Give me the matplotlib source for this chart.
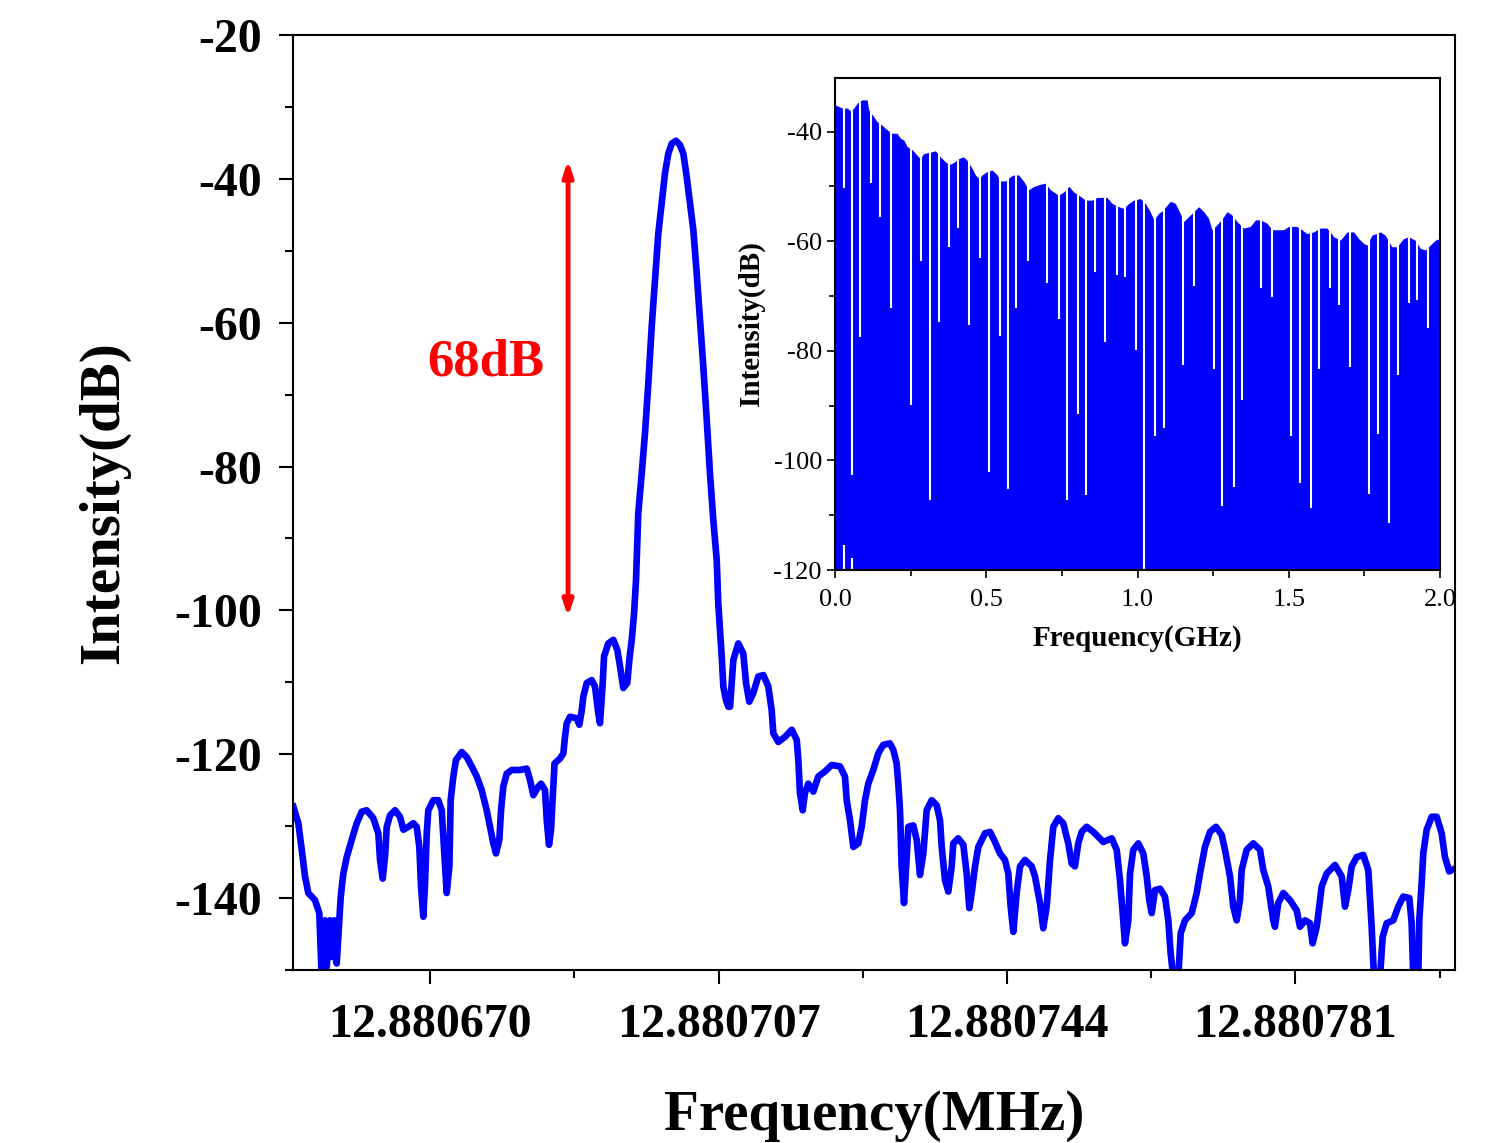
import numpy as np
import matplotlib.pyplot as plt
from matplotlib.ticker import MultipleLocator

plt.rcParams['font.family'] = ['Liberation Serif', 'DejaVu Serif']
plt.rcParams['axes.unicode_minus'] = False

# main spectrum: offset from 12.880670 MHz in Hz, intensity in dB
F0 = 12.880670
off_hz = [-17.53, -16.89, -16.45, -16.03, -15.61, -14.75, -14.20, -13.89, -13.47, -13.25,
          -12.83, -12.53, -12.27, -11.97, -11.63, -11.45, -11.12, -10.68, -10.04, -9.40,
          -8.76, -8.12, -7.27, -6.63, -6.41, -6.07, -5.77, -5.55, -5.13, -4.49,
          -3.85, -3.42, -2.78, -2.14, -1.71, -1.37, -1.15, -0.86, -0.64, -0.42,
          -0.22, 0.42, 1.06, 1.50, 1.80, 2.14, 2.48, 2.65, 2.99, 3.33,
          4.07, 4.71, 5.35, 5.99, 6.63, 7.27, 7.70, 8.12, 8.46, 8.89,
          9.11, 9.40, 9.84, 10.48, 11.54, 12.40, 12.83, 13.25, 13.89, 14.24,
          14.75, 14.97, 15.26, 15.52, 15.81, 15.97, 16.67, 17.10, 17.31, 17.53,
          17.96, 18.81, 19.15, 19.46, 19.66, 20.10, 20.74, 21.16, 21.58, 21.80,
          22.15, 22.32, 22.87, 23.51, 24.02, 24.37, 24.79, 25.30, 25.56, 25.87,
          26.16, 26.42, 26.71, 27.15, 27.57, 28.00, 28.43, 28.86, 29.28, 29.71,
          30.14, 30.56, 31.00, 31.55, 32.06, 32.49, 32.92, 33.35, 33.77, 34.20,
          34.63, 35.05, 35.49, 35.91, 36.33, 36.77, 36.97, 37.19, 37.41, 37.62,
          37.96, 38.26, 38.48, 38.90, 39.54, 40.18, 40.53, 40.95, 41.46, 42.10,
          42.75, 43.39, 43.82, 44.03, 44.67, 45.53, 46.39, 47.03, 47.24, 47.45,
          47.80, 48.09, 48.52, 49.16, 49.80, 50.66, 51.52, 52.58, 53.22, 53.44,
          53.87, 54.29, 54.93, 55.36, 55.79, 56.21, 56.85, 57.49, 58.13, 58.99,
          59.42, 59.85, 60.06, 60.28, 60.49, 60.79, 61.14, 61.34, 61.98, 62.42,
          62.84, 63.27, 63.70, 64.34, 64.98, 65.41, 65.63, 66.05, 66.47, 66.91,
          67.11, 67.75, 68.40, 68.83, 69.17, 69.47, 69.90, 70.32, 71.18, 71.82,
          72.46, 73.10, 73.74, 74.17, 74.47, 74.81, 75.24, 75.67, 76.31, 77.17,
          77.59, 78.23, 78.65, 79.09, 79.52, 79.94, 80.58, 81.22, 81.86, 82.30,
          82.72, 83.14, 83.58, 84.22, 85.07, 85.71, 86.35, 87.43, 88.07, 88.49,
          88.84, 89.13, 89.56, 89.78, 90.20, 90.84, 91.48, 91.92, 92.25, 92.56,
          92.98, 93.62, 94.26, 94.69, 94.99, 95.33, 95.97, 96.28, 96.83, 97.69,
          98.33, 98.75, 99.39, 100.04, 100.80, 101.53, 101.96, 102.60, 103.02, 103.46,
          103.88, 104.10, 104.74, 105.59, 106.45, 106.87, 107.51, 108.15, 108.37, 108.79,
          109.44, 110.30, 111.15, 111.58, 112.22, 112.86, 113.20, 113.72, 114.05, 114.36,
          115.00, 116.07, 116.93, 117.35, 117.77, 118.21, 118.85, 119.70, 120.34, 120.77,
          121.07, 121.84, 122.18, 122.70, 123.54, 124.18, 124.82, 125.60, 125.90, 126.11,
          126.75, 126.88, 127.18, 127.39, 127.83, 128.47, 129.11, 129.75, 130.17, 130.72,
          131.45]
intensity_db = [-127.3, -129.6, -133.3, -137.0, -139.3, -140.3, -142.1, -151.0, -143.1, -149.6,
                -143.1, -148.2, -143.1, -149.1, -143.1, -139.8, -136.6, -134.3, -131.9, -129.6,
                -128.0, -127.8, -128.9, -131.0, -134.7, -137.3, -134.3, -130.1, -128.5, -127.8,
                -128.7, -130.5, -130.1, -129.6, -130.1, -132.9, -138.4, -142.6, -138.0, -131.0,
                -127.8, -126.4, -126.4, -127.8, -133.3, -139.3, -135.6, -126.4, -123.1, -120.8,
                -119.7, -120.4, -121.7, -123.1, -125.0, -127.8, -130.1, -132.4, -133.8, -131.9,
                -127.8, -124.5, -122.7, -122.2, -122.2, -122.0, -123.6, -125.7, -124.5, -124.1,
                -125.0, -129.2, -132.6, -130.5, -124.5, -121.3, -120.6, -119.9, -117.6, -115.7,
                -114.8, -115.0, -115.9, -113.9, -112.0, -110.1, -109.7, -110.6, -114.3, -115.7,
                -110.1, -106.4, -104.6, -104.1, -105.5, -107.8, -110.8, -110.1, -106.9, -104.1,
                -100.6, -95.8, -86.5, -81.0, -75.4, -68.4, -60.6, -54.1, -47.6, -43.4,
                -39.2, -36.5, -35.1, -34.7, -35.3, -36.5, -39.7, -43.4, -47.1, -53.1,
                -59.6, -66.1, -73.5, -81.0, -87.4, -93.0, -99.0, -102.7, -106.4, -110.6,
                -112.5, -113.4, -113.4, -106.9, -104.6, -106.0, -110.1, -112.7, -111.5, -109.2,
                -109.0, -110.6, -113.9, -117.1, -118.3, -117.6, -116.6, -118.0, -120.8, -125.4,
                -127.8, -125.4, -124.1, -125.2, -123.1, -122.4, -121.5, -121.7, -123.1, -126.4,
                -129.2, -132.9, -132.4, -130.1, -126.4, -124.1, -122.2, -119.9, -118.7, -118.5,
                -119.4, -121.3, -124.1, -127.8, -135.6, -140.7, -134.3, -130.1, -129.9, -131.9,
                -136.8, -133.8, -127.8, -126.4, -127.1, -129.2, -132.9, -137.5, -139.1, -135.6,
                -132.4, -131.7, -132.6, -136.6, -141.4, -139.3, -135.6, -132.9, -131.0, -130.8,
                -132.2, -133.8, -134.7, -136.6, -141.2, -144.7, -139.3, -135.6, -134.7, -135.6,
                -137.0, -140.7, -144.2, -141.2, -134.7, -130.1, -128.9, -129.6, -132.4, -135.2,
                -135.6, -132.4, -130.8, -130.1, -130.8, -131.5, -132.2, -131.7, -133.3, -137.5,
                -142.1, -146.3, -143.1, -136.6, -133.3, -132.4, -133.8, -137.0, -140.3, -142.1,
                -138.9, -138.7, -139.8, -143.1, -147.7, -151.0, -151.0, -144.9, -143.1, -142.1,
                -139.3, -136.6, -132.9, -130.8, -130.1, -131.2, -133.3, -137.0, -141.2, -143.1,
                -140.3, -136.1, -133.3, -132.4, -133.3, -136.1, -138.4, -143.1, -144.0, -140.7,
                -139.3, -140.3, -141.7, -144.0, -143.1, -143.5, -146.3, -144.0, -141.2, -138.4,
                -136.6, -135.4, -137.0, -141.2, -138.9, -135.6, -134.3, -134.0, -136.1, -144.0,
                -151.0, -151.0, -145.4, -143.5, -143.1, -141.2, -139.8, -140.0, -143.5, -151.0,
                -151.0, -143.1, -138.0, -133.8, -130.5, -128.7, -128.7, -131.0, -134.3, -136.3,
                -135.9]

x_tick_hz = [0, 37, 74, 111]
x_tick_labels = ['12.880670', '12.880707', '12.880744', '12.880781']
x_minor_hz = [18.5, 55.5, 92.5, 129.5]

# red marker of the side-mode suppression
arrow_hz = 17.7
arrow_top_db = -37.4
arrow_bottom_db = -100.9
arrow_label = '68dB'

# inset: comb envelope (GHz, dB)
env_ghz = [0.0, 0.012, 0.023, 0.040, 0.051, 0.062, 0.073, 0.089, 0.106, 0.111,
           0.128, 0.139, 0.155, 0.166, 0.178, 0.188, 0.205, 0.216, 0.227, 0.238,
           0.255, 0.271, 0.282, 0.293, 0.310, 0.332, 0.348, 0.365, 0.376, 0.387,
           0.398, 0.409, 0.425, 0.436, 0.453, 0.464, 0.475, 0.486, 0.502, 0.519,
           0.536, 0.546, 0.563, 0.580, 0.591, 0.607, 0.624, 0.640, 0.657, 0.679,
           0.695, 0.712, 0.728, 0.739, 0.756, 0.773, 0.789, 0.806, 0.828, 0.850,
           0.866, 0.899, 0.916, 0.938, 0.954, 0.971, 0.987, 1.009, 1.026, 1.042,
           1.054, 1.070, 1.081, 1.098, 1.109, 1.125, 1.136, 1.153, 1.169, 1.186,
           1.202, 1.219, 1.235, 1.246, 1.263, 1.285, 1.296, 1.312, 1.329, 1.351,
           1.373, 1.390, 1.406, 1.428, 1.445, 1.461, 1.483, 1.500, 1.527, 1.544,
           1.560, 1.582, 1.604, 1.626, 1.637, 1.649, 1.671, 1.693, 1.715, 1.731,
           1.748, 1.759, 1.775, 1.803, 1.819, 1.841, 1.858, 1.880, 1.897, 1.918,
           1.935, 1.952, 1.968, 1.985, 2.0]
env_db = [-35.1, -35.4, -35.7, -35.7, -36.2, -35.7, -34.8, -34.2, -34.2, -36.0,
          -37.3, -38.2, -38.8, -39.4, -39.9, -40.3, -40.3, -41.2, -41.5, -42.7,
          -43.3, -44.3, -44.9, -44.0, -43.8, -43.5, -44.6, -45.5, -46.0, -45.8,
          -45.4, -44.9, -44.6, -45.2, -46.7, -47.9, -48.5, -47.9, -47.3, -47.0,
          -47.9, -49.0, -49.0, -48.2, -47.9, -47.9, -49.1, -50.6, -50.0, -49.6,
          -49.4, -50.6, -51.2, -51.6, -51.0, -50.0, -51.0, -51.6, -52.5, -52.5,
          -52.0, -52.0, -53.1, -53.7, -54.0, -53.1, -52.5, -52.2, -53.1, -54.6,
          -56.1, -54.9, -54.5, -53.4, -52.7, -53.1, -54.3, -56.4, -55.5, -54.6,
          -53.7, -54.6, -55.8, -57.9, -57.0, -55.5, -54.6, -55.2, -56.4, -57.6,
          -57.3, -56.1, -56.1, -56.7, -57.9, -57.9, -57.9, -57.3, -57.3, -57.9,
          -58.6, -58.3, -57.6, -57.6, -58.3, -59.2, -59.8, -58.3, -58.3, -59.5,
          -60.4, -60.7, -58.9, -58.3, -58.9, -61.0, -61.0, -59.5, -59.2, -59.8,
          -61.3, -61.6, -60.7, -59.8, -59.5]

# inset: dips between comb lines (GHz, lowest dB)
dip_ghz = [0.029, 0.056, 0.084, 0.120, 0.150, 0.186, 0.251, 0.285, 0.315, 0.343,
           0.378, 0.407, 0.442, 0.480, 0.508, 0.544, 0.572, 0.599, 0.637, 0.701,
           0.739, 0.767, 0.803, 0.831, 0.858, 0.894, 0.932, 0.958, 0.995, 1.020,
           1.059, 1.087, 1.150, 1.188, 1.252, 1.279, 1.318, 1.345, 1.409, 1.445,
           1.508, 1.538, 1.574, 1.601, 1.637, 1.665, 1.704, 1.767, 1.795, 1.832,
           1.860, 1.897, 1.924, 1.960]
dip_db = [-50.3, -102.7, -77.4, -49.4, -55.5, -72.2, -89.9, -63.6, -107.2, -74.7,
          -61.0, -57.5, -75.3, -63.0, -102.2, -77.3, -105.3, -72.2, -63.6, -67.7,
          -74.2, -107.2, -91.5, -106.3, -65.7, -78.3, -66.2, -66.6, -79.8, -120.0,
          -95.5, -94.0, -82.5, -68.1, -83.4, -108.3, -104.8, -89.0, -68.6, -70.1,
          -95.5, -104.2, -108.7, -83.4, -68.6, -71.6, -82.9, -106.2, -95.1, -111.4,
          -84.4, -71.2, -70.7, -75.8]
# small gaps at the floor
floor_gap_ghz = [0.029, 0.056]
floor_gap_db = [-115.4, -117.8]

blue = '#0000FF'

fig = plt.figure(figsize=(14.92, 11.43), dpi=100)
ax = fig.add_axes([0.1964, 0.1514, 0.7788, 0.818])

x_mhz = F0 + np.array(off_hz) * 1e-6
ax.plot(x_mhz, intensity_db, color=blue, lw=4.8, solid_joinstyle='round')

ax.set_xlim(F0 - 17.57e-6, F0 + 131.46e-6)
ax.set_ylim(-150, -20)
ax.set_xticks(F0 + np.array(x_tick_hz) * 1e-6)
ax.set_xticklabels(x_tick_labels)
ax.set_xticks(F0 + np.array(x_minor_hz) * 1e-6, minor=True)
ax.yaxis.set_major_locator(MultipleLocator(20))
ax.yaxis.set_minor_locator(MultipleLocator(10))
ax.tick_params(which='major', direction='out', length=10, width=1.5, labelsize=34.5)
ax.tick_params(axis='x', which='major', pad=14)
ax.tick_params(axis='y', which='major', pad=12)
ax.tick_params(which='minor', direction='out', length=6, width=1.5)
for lab in ax.get_xticklabels() + ax.get_yticklabels():
    lab.set_fontweight('bold')
for s in ax.spines.values():
    s.set_linewidth(1.5)
ax.set_xlabel('Frequency(MHz)', fontsize=41, fontweight='bold', labelpad=31)
ax.set_ylabel('Intensity(dB)', fontsize=41, fontweight='bold', labelpad=32)

ax.annotate('', xy=(F0 + arrow_hz * 1e-6, arrow_top_db), xytext=(F0 + arrow_hz * 1e-6, arrow_bottom_db),
            arrowprops=dict(arrowstyle='<|-|>,head_length=0.9,head_width=0.3', color='red', lw=3.5,
                            shrinkA=0, shrinkB=0))
ax.text(F0 + 7.2e-6, -65.5, arrow_label, color='red', fontsize=38, fontweight='bold',
        ha='center', va='center')

# inset
ins = fig.add_axes([0.5597, 0.5013, 0.4054, 0.4305])
ins.fill_between(env_ghz, env_db, -120, color=blue, lw=0)
ins.vlines(dip_ghz, dip_db, -30, colors='white', lw=1.5)
ins.vlines(floor_gap_ghz, -120, floor_gap_db, colors='white', lw=1.5)
ins.set_xlim(0, 2.0)
ins.set_ylim(-120, -30.2)
ins.xaxis.set_major_locator(MultipleLocator(0.5))
ins.xaxis.set_minor_locator(MultipleLocator(0.25))
ins.yaxis.set_major_locator(MultipleLocator(20))
ins.yaxis.set_minor_locator(MultipleLocator(10))
ins.xaxis.set_major_formatter(plt.FormatStrFormatter('%.1f'))
ins.tick_params(which='both', direction='out', labelsize=19, width=1.2)
ins.tick_params(which='major', length=6)
ins.tick_params(axis='x', which='major', pad=7.5)
ins.tick_params(which='minor', length=4)
for s in ins.spines.values():
    s.set_linewidth(1.5)
ins.set_xlabel('Frequency(GHz)', fontsize=21, fontweight='bold', labelpad=10)
ins.set_ylabel('Intensity(dB)', fontsize=21, fontweight='bold', labelpad=6)

fig.savefig('out.png', dpi=100)
